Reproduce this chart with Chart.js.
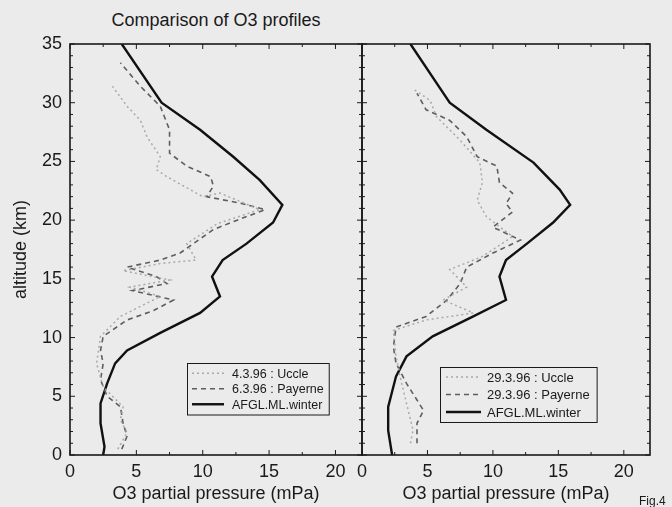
<!DOCTYPE html>
<html>
<head>
<meta charset="utf-8">
<title>Comparison of O3 profiles</title>
<script src="https://cdn.jsdelivr.net/npm/chart.js@4.4.1/dist/chart.umd.min.js"></script>
<style>
  body {
    margin: 0;
    width: 672px;
    height: 507px;
    overflow: hidden;
    position: relative;
    background: #ebebeb;
    font-family: 'Liberation Sans', Arial, Helvetica, sans-serif;
    color: #1a1a1a;
  }
  #title {
    position: absolute;
    left: 70px;
    width: 292px;
    top: 10px;
    line-height: 21px;
    text-align: center;
    font-size: 18px;
  }
  #fig {
    position: absolute;
    left: 639px;
    top: 494px;
    font-size: 12px;
  }
  #leftChart { position: absolute; left: 0; top: 0; }
  #rightChart { position: absolute; left: 356px; top: 0; }
</style>
</head>
<body>
<div id="title">Comparison of O3 profiles</div>
<canvas id="leftChart" width="364" height="507"></canvas>
<canvas id="rightChart" width="316" height="507"></canvas>
<div id="fig">Fig.4</div>

<script>
'use strict';

// axis ranges / ticks
const xMax = 22;
const yMax = 35;
const xLabelStep = 5;
const xMinorStep = 2.5;
const yLabelStep = 5;
const yMinorStep = 1;

// left panel: 4.3.96 Uccle, 6.3.96 Payerne, AFGL mid-lat winter
const leftLabels = ['4.3.96 : Uccle', '6.3.96 : Payerne', 'AFGL.ML.winter'];

const leftUccle =    [3.6, 4.3, 3.8, 4.0, 2.5, 2.0, 2.3, 3.8, 6.8, 4.5, 7.5, 4.0, 6.8, 9.5, 8.8, 11.1, 14.3, 11.3, 10.0, 7.3, 6.5, 6.8, 5.8, 5.3, 4.3, 3.2];
const leftUccleAlt = [0.5, 1.9, 3.0, 4.1, 5.8, 7.8, 10.1, 11.8, 13.5, 14.3, 14.9, 15.7, 16.3, 16.6, 18.0, 19.7, 20.9, 22.3, 22.0, 23.7, 24.3, 25.4, 27.1, 28.5, 29.7, 31.4];

const leftPayerne =    [3.9, 4.3, 4.0, 3.8, 2.8, 2.3, 2.5, 2.3, 2.5, 4.3, 6.3, 7.8, 4.7, 7.3, 6.5, 4.3, 6.8, 8.3, 9.3, 10.8, 12.6, 14.7, 13.0, 10.3, 10.8, 10.6, 8.8, 7.5, 7.5, 6.8, 5.3, 3.8];
const leftPayerneAlt = [0.5, 1.6, 2.7, 4.1, 5.0, 6.4, 7.8, 8.9, 10.1, 11.5, 12.3, 13.2, 14.0, 14.6, 15.2, 16.0, 16.6, 17.2, 18.0, 19.2, 20.0, 20.9, 21.4, 22.0, 22.9, 23.7, 24.6, 25.7, 27.7, 29.7, 31.4, 33.4];

const leftAfgl =    [2.5, 2.6, 2.3, 2.3, 2.8, 3.4, 4.3, 6.8, 9.8, 11.3, 10.7, 11.5, 13.3, 15.3, 16.0, 14.3, 12.3, 9.8, 6.9, 3.9];
const leftAfglAlt = [0, 0.7, 2.7, 4.4, 6.1, 7.8, 8.9, 10.4, 12.1, 13.5, 15.2, 16.6, 18.0, 19.8, 21.3, 23.4, 25.4, 27.7, 30.0, 35.0];

// right panel: 29.3.96 Uccle, 29.3.96 Payerne, AFGL mid-lat winter
const rightLabels = ['29.3.96 : Uccle', '29.3.96 : Payerne', 'AFGL.ML.winter'];

const rightUccle =    [3.7, 3.9, 2.9, 2.6, 2.4, 4.9, 8.5, 6.2, 8.0, 6.7, 9.2, 11.5, 9.5, 8.8, 9.2, 9.0, 7.5, 5.7, 5.2, 4.0];
const rightUccleAlt = [1.0, 2.1, 6.7, 8.4, 10.6, 11.5, 12.1, 13.2, 14.3, 15.8, 16.9, 18.6, 20.3, 21.7, 23.2, 24.9, 26.8, 28.8, 30.2, 31.1];

const rightPayerne =    [4.2, 4.2, 4.7, 3.4, 2.6, 2.4, 2.6, 4.9, 6.5, 7.5, 8.0, 10.0, 12.1, 10.0, 11.5, 11.0, 11.5, 10.5, 10.3, 8.8, 8.0, 6.7, 4.9, 4.2];
const rightPayerneAlt = [1.0, 2.7, 3.8, 6.1, 7.8, 9.2, 10.9, 11.8, 13.2, 14.6, 16.0, 17.2, 18.3, 19.4, 20.7, 21.4, 22.3, 23.2, 24.6, 25.4, 27.1, 28.5, 29.4, 30.8];

const rightAfgl =    [2.3, 2.0, 2.0, 2.6, 3.4, 5.4, 8.5, 11.0, 10.5, 11.0, 12.6, 14.6, 15.9, 15.1, 13.1, 9.5, 6.7, 3.7];
const rightAfglAlt = [0, 2.1, 4.1, 6.7, 8.4, 10.1, 11.8, 13.2, 15.2, 16.6, 18.0, 19.8, 21.3, 22.6, 24.9, 27.7, 30.0, 35.0];

const FONT = "'Liberation Sans', Arial, Helvetica, sans-serif";
const INK = '#1a1a1a';

function toPoints(press, alt) {
    return press.map((p, i) => ({ x: p, y: alt[i] }));
}

function makeDatasets(labels, uccle, uccleAlt, payerne, payerneAlt, afgl, afglAlt) {
    return [
        {
            label: labels[0],
            data: toPoints(uccle, uccleAlt),
            showLine: true,
            borderColor: '#a9a9a9',
            borderDash: [2, 3],
            borderWidth: 1.5
        },
        {
            label: labels[1],
            data: toPoints(payerne, payerneAlt),
            showLine: true,
            borderColor: '#5e5e5e',
            borderDash: [5, 4],
            borderWidth: 1.6
        },
        {
            label: labels[2],
            data: toPoints(afgl, afglAlt),
            showLine: true,
            borderColor: '#111111',
            borderWidth: 2.4
        }
    ];
}

// black box round the plot, short inward ticks on all four sides
const frameTicks = {
    id: 'frameTicks',
    afterDatasetsDraw(chart) {
        const { ctx, chartArea: a, scales: { x, y } } = chart;
        ctx.save();
        ctx.strokeStyle = INK;
        ctx.lineWidth = 1;
        ctx.beginPath();
        for (let v = 0; v <= y.max + 1e-9; v += yMinorStep) {
            const py = y.getPixelForValue(v);
            const len = v % yLabelStep === 0 ? 5 : 3;
            ctx.moveTo(a.left, py); ctx.lineTo(a.left + len, py);
            ctx.moveTo(a.right, py); ctx.lineTo(a.right - len, py);
        }
        for (let v = 0; v <= x.max + 1e-9; v += xMinorStep) {
            const px = x.getPixelForValue(v);
            const len = v % xLabelStep === 0 ? 5 : 3;
            ctx.moveTo(px, a.bottom); ctx.lineTo(px, a.bottom - len);
            ctx.moveTo(px, a.top); ctx.lineTo(px, a.top + len);
        }
        ctx.stroke();
        ctx.lineWidth = 1.6;
        ctx.strokeRect(a.left, a.top, a.right - a.left, a.bottom - a.top);
        ctx.restore();
    }
};

// boxed legend sitting in the lower right part of the plot
const boxLegend = {
    id: 'boxLegend',
    afterDraw(chart, args, opts) {
        const { ctx, chartArea: a } = chart;
        const sets = chart.data.datasets;
        ctx.save();
        ctx.font = opts.fontSize + 'px ' + FONT;
        const textW = Math.max(...sets.map(d => ctx.measureText(d.label).width));
        const w = opts.pad + opts.sample + opts.gap + textW + opts.padRight;
        const h = opts.rowHeight * sets.length + 2 * opts.vpad;
        const bx = Math.round(a.right - opts.right - w);
        const by = Math.round(a.bottom - opts.bottom - h);

        ctx.fillStyle = '#ebebeb';
        ctx.fillRect(bx, by, w, h);
        ctx.strokeStyle = INK;
        ctx.lineWidth = 1;
        ctx.strokeRect(bx + 0.5, by + 0.5, w, h);

        sets.forEach((d, i) => {
            const cy = by + opts.vpad + opts.rowHeight * (i + 0.5);
            ctx.setLineDash(d.borderDash || []);
            ctx.strokeStyle = d.borderColor;
            ctx.lineWidth = d.borderWidth;
            ctx.beginPath();
            ctx.moveTo(bx + opts.pad, cy);
            ctx.lineTo(bx + opts.pad + opts.sample, cy);
            ctx.stroke();
            ctx.setLineDash([]);
            ctx.fillStyle = INK;
            ctx.textBaseline = 'middle';
            ctx.fillText(d.label, bx + opts.pad + opts.sample + opts.gap, cy + 1);
        });
        ctx.restore();
    }
};

function makeOptions(showY, padding, legendOpts) {
    return {
        responsive: false,
        animation: false,
        layout: { padding: padding },
        elements: {
            point: { radius: 0, hoverRadius: 0 },
            line: { tension: 0 }
        },
        plugins: {
            legend: { display: false },
            tooltip: { enabled: false },
            boxLegend: legendOpts
        },
        scales: {
            x: {
                type: 'linear',
                min: 0,
                max: xMax,
                grid: { display: false, drawTicks: false },
                border: { display: false },
                ticks: {
                    stepSize: xLabelStep,
                    includeBounds: false,
                    padding: 6,
                    color: INK,
                    font: { family: FONT, size: 18 }
                },
                title: {
                    display: true,
                    text: 'O3 partial pressure (mPa)',
                    color: INK,
                    font: { family: FONT, size: 18 },
                    padding: { top: 0, bottom: 2 }
                },
                afterFit(scale) {
                    scale.height = 52;
                    // keep the plot edges where the layout padding puts them
                    scale.paddingLeft = 0;
                    scale.paddingRight = 0;
                }
            },
            y: {
                type: 'linear',
                display: showY,
                min: 0,
                max: yMax,
                grid: { display: false, drawTicks: false },
                border: { display: false },
                ticks: {
                    stepSize: yLabelStep,
                    padding: 8,
                    color: INK,
                    font: { family: FONT, size: 18 }
                },
                title: {
                    display: true,
                    text: 'altitude (km)',
                    color: INK,
                    font: { family: FONT, size: 18 },
                    padding: { top: 10, bottom: 0 }
                },
                afterFit(scale) { scale.width = showY ? 70 : 0; }
            }
        }
    };
}

new Chart(document.getElementById('leftChart').getContext('2d'), {
    type: 'scatter',
    data: {
        datasets: makeDatasets(leftLabels, leftUccle, leftUccleAlt, leftPayerne, leftPayerneAlt, leftAfgl, leftAfglAlt)
    },
    options: makeOptions(true, { top: 44, right: 2, bottom: 0, left: 0 },
        { fontSize: 12.5, pad: 5, sample: 32, gap: 8, padRight: 5, rowHeight: 15.5, vpad: 2.5, right: 33, bottom: 41 }),
    plugins: [frameTicks, boxLegend]
});

new Chart(document.getElementById('rightChart').getContext('2d'), {
    type: 'scatter',
    data: {
        datasets: makeDatasets(rightLabels, rightUccle, rightUccleAlt, rightPayerne, rightPayerneAlt, rightAfgl, rightAfglAlt)
    },
    options: makeOptions(false, { top: 44, right: 22, bottom: 0, left: 6 },
        { fontSize: 13, pad: 6, sample: 35, gap: 6, padRight: 7, rowHeight: 17.5, vpad: 1.25, right: 53, bottom: 33 }),
    plugins: [frameTicks, boxLegend]
});
</script>
</body>
</html>
